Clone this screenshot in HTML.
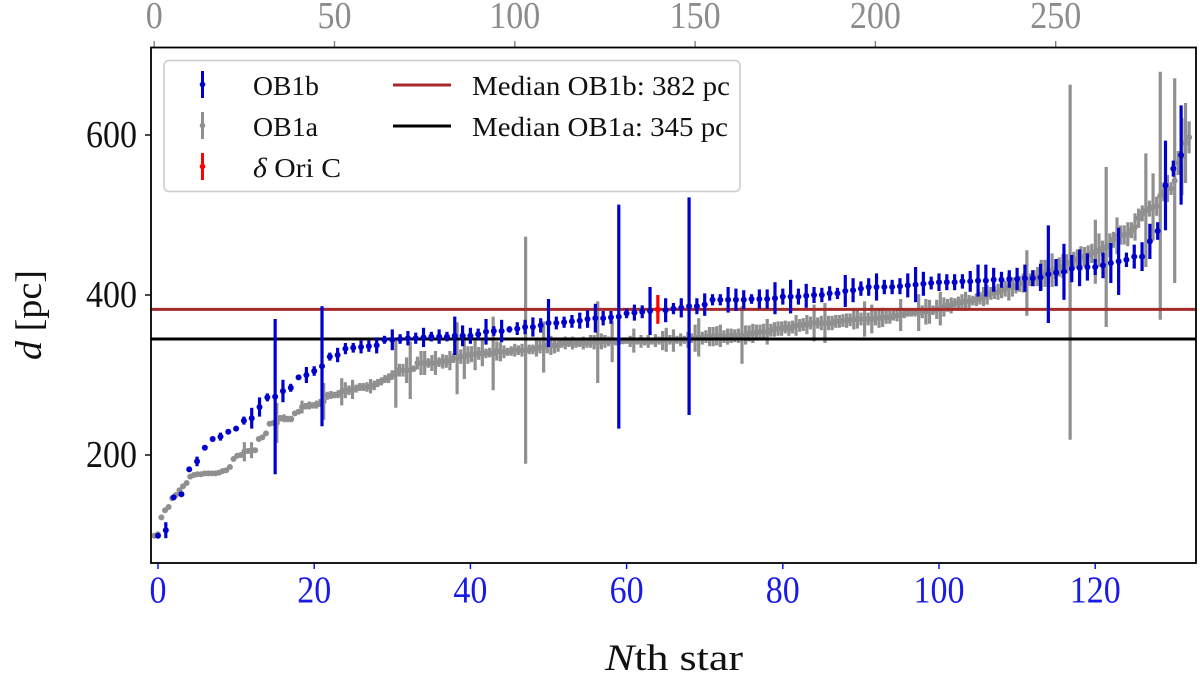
<!DOCTYPE html>
<html lang="en">
<head>
<meta charset="utf-8">
<title>Distance of Nth star in OB1a and OB1b</title>
<style>
html,body{margin:0;padding:0;background:#fff;width:1200px;height:676px;overflow:hidden}
svg{display:block;font-family:"Liberation Serif",serif}
</style>
</head>
<body>
<svg id="chart" width="1200" height="676" viewBox="0 0 1200 676" xmlns="http://www.w3.org/2000/svg">
  <rect x="151" y="47.5" width="1045" height="515.5" fill="#fff"/>
  <g id="gray-layer"></g>
  <g id="median-layer"></g>
  <g id="blue-layer"></g>
  <g id="red-layer"></g>
  <g id="tick-layer"></g>
  <rect x="151" y="47.5" width="1045" height="515.5" fill="none" stroke="#000" stroke-width="1.8"/>

  <g>
    <rect x="164" y="60.5" width="576" height="131" rx="5" fill="#fff" fill-opacity="0.85" stroke="#ccc" stroke-width="1.5"/>
    <g>
      <line x1="202.5" x2="202.5" y1="71" y2="98" stroke="#0000cd" stroke-width="3"/>
      <circle cx="202.5" cy="84.5" r="2.8" fill="#0000cd"/>
      <text x="253" y="95" font-size="27" textLength="66" lengthAdjust="spacingAndGlyphs" fill="#111">OB1b</text>
    </g>
    <g>
      <line x1="202.5" x2="202.5" y1="112" y2="139" stroke="#909090" stroke-width="3"/>
      <circle cx="202.5" cy="125.5" r="2.8" fill="#909090"/>
      <text x="253" y="136" font-size="27" textLength="65" lengthAdjust="spacingAndGlyphs" fill="#111">OB1a</text>
    </g>
    <g>
      <line x1="202.5" x2="202.5" y1="153" y2="180" stroke="#ff0000" stroke-width="3"/>
      <circle cx="202.5" cy="166.5" r="2.8" fill="#ff0000"/>
      <text x="253" y="177" font-size="27" textLength="88" lengthAdjust="spacingAndGlyphs" fill="#111"><tspan font-style="italic">δ</tspan> Ori C</text>
    </g>
    <g>
      <line x1="393" x2="451" y1="85" y2="85" stroke="#a52a2a" stroke-width="3"/>
      <text x="472" y="95" font-size="27" textLength="258" lengthAdjust="spacingAndGlyphs" fill="#111">Median OB1b: 382 pc</text>
    </g>
    <g>
      <line x1="393" x2="451" y1="126" y2="126" stroke="#000" stroke-width="3"/>
      <text x="472" y="136" font-size="27" textLength="256" lengthAdjust="spacingAndGlyphs" fill="#111">Median OB1a: 345 pc</text>
    </g>
  </g>

  <text transform="translate(41,315) rotate(-90)" text-anchor="middle" font-size="37" textLength="90" lengthAdjust="spacingAndGlyphs" fill="#111"><tspan font-style="italic">d</tspan> [pc]</text>
  <text x="674" y="670" text-anchor="middle" font-size="37" textLength="138" lengthAdjust="spacingAndGlyphs" fill="#111"><tspan font-style="italic">N</tspan>th star</text>
</svg>

<script>
const bottomTickLabels = [0, 20, 40, 60, 80, 100, 120];
const topTickLabels = [0, 50, 100, 150, 200, 250];
const leftTickLabels = [200, 400, 600];

const medianOB1b = 382;
const medianOB1a = 345;

const blueDistance = [
  99,106,147,151,182,192,209,220,223,229,
  233,243,246,260,272,273,280,284,297,300,
  305,311,323,325,333,334,335,336,337,344,
  344,345,346,346,347,348,348,348,349,349,
  349,351,354,355,355,357,358,360,360,362,
  365,365,366,367,368,370,371,371,372,373,
  377,378,379,380,null,381,383,384,386,386,
  388,394,394,394,394,394,395,395,395,396,
  398,398,398,399,400,400,402,402,405,406,
  408,410,410,410,410,411,412,413,414,415,
  416,416,416,417,417,418,418,419,419,420,
  420,421,421,422,426,428,429,433,434,435,
  435,437,440,442,444,448,448,467,480,537,
  558,575
];
const blueError = [
  1,10,1,1,1,6,1,1,5,1,
  1,5,13,12,5,97,14,5,1,10,
  6,75,5,9,7,6,8,7,10,5,
  13,6,9,7,12,6,9,6,24,13,
  10,7,16,6,14,4,8,9,12,9,
  30,8,7,8,10,11,18,9,8,140,
  6,10,8,30,0,15,7,12,136,10,
  14,7,7,16,14,12,6,12,12,20,
  10,21,10,15,10,9,9,7,20,15,
  9,11,17,9,9,10,15,22,15,8,
  11,10,10,9,13,20,20,15,10,11,
  14,17,10,17,61,17,35,17,23,17,
  10,16,25,42,9,15,18,22,11,56,
  10,62
];

const redIndex = [64];
const redDistance = [382];
const redError = [18];

const grayDistance = [
  99,101,122,131,135,146,150,156,161,165,
  173,175,176,176,177,177,177,177,178,180,
  181,185,195,199,200,204,205,206,206,220,
  222,227,239,240,240,246,246,245,245,252,
  254,260,261,262,262,263,265,267,274,275,
  275,276,279,281,281,282,283,285,285,285,
  286,287,290,292,295,296,300,302,306,306,
  306,306,308,315,315,315,315,315,315,316,
  317,317,318,321,321,323,323,325,326,326,
  327,327,327,328,327,330,329,329,329,330,
  331,331,331,331,332,332,333,335,335,337,
  337,337,337,340,340,340,340,340,340,340,
  340,342,341,341,342,342,342,342,342,342,
  342,343,342,343,342,342,342,342,342,343,
  343,343,344,344,343,344,344,344,344,346,
  346,347,346,348,348,348,349,349,348,348,
  349,349,349,350,350,352,352,353,354,354,
  354,356,357,358,358,360,358,360,362,362,
  363,363,365,365,365,365,365,365,365,367,
  367,368,368,369,369,370,370,370,370,370,
  371,371,372,372,372,374,374,375,376,377,
  378,378,378,379,379,379,381,382,383,385,
  387,387,390,390,391,392,392,393,394,396,
  398,400,402,403,404,406,408,410,410,412,
  414,415,415,419,421,423,425,427,430,431,
  432,435,436,439,441,444,445,446,448,450,
  452,454,456,458,460,462,469,474,475,475,
  476,481,485,496,502,506,508,510,511,524,
  529,533,533,543,565,573,590,597
];
const grayError = [
  1,1,1,1,1,1,1,1,1,1,
  1,1,1,1,1,1,1,1,1,1,
  1,1,2,2,2,12,3,10,3,2,
  2,2,3,3,25,4,5,4,4,3,
  3,8,4,5,4,5,5,23,5,5,
  4,5,17,10,6,12,5,5,5,6,
  9,6,5,5,5,6,6,43,8,8,
  16,36,4,8,15,15,6,10,15,6,
  9,8,12,6,45,9,28,11,10,20,
  8,16,6,6,46,12,12,8,5,6,
  8,6,8,142,6,6,10,8,32,10,
  12,10,8,6,8,5,8,6,5,8,
  6,8,9,51,10,8,6,26,5,4,
  3,4,7,15,4,8,5,8,4,8,
  5,12,15,6,14,5,8,5,10,6,
  17,24,8,8,12,12,12,14,8,10,
  9,8,9,36,12,10,12,10,9,10,
  16,8,9,9,9,8,9,8,13,8,
  8,12,8,23,7,9,25,9,9,8,
  8,8,9,8,12,12,8,22,8,18,
  9,12,12,8,8,6,7,20,5,4,
  5,5,23,8,16,15,6,12,21,12,
  8,10,6,8,10,12,8,6,8,8,
  12,12,8,8,10,10,10,17,12,10,
  10,12,41,8,10,12,19,17,15,21,
  12,12,15,12,222,10,12,15,12,12,
  12,40,21,10,100,15,10,23,12,12,
  15,10,17,12,10,71,10,42,12,155,
  12,17,8,128,15,48,50,20
];

function xBottom(n) { return 158 + 7.81 * n; }
function xTop(m) { return 154.2 + 3.606 * m; }
function yAxis(d) { return 615 - 0.8 * d; }

const NS = 'http://www.w3.org/2000/svg';
const svg = document.getElementById('chart');
const grayLayer = document.getElementById('gray-layer');
const medianLayer = document.getElementById('median-layer');
const blueLayer = document.getElementById('blue-layer');
const redLayer = document.getElementById('red-layer');
const tickLayer = document.getElementById('tick-layer');

function makeBar(x, d, e, color) {
  const g = document.createElementNS(NS, 'g');
  const l = document.createElementNS(NS, 'line');
  l.setAttribute('x1', x);
  l.setAttribute('x2', x);
  l.setAttribute('y1', yAxis(d + e));
  l.setAttribute('y2', yAxis(d - e));
  l.setAttribute('stroke', color);
  l.setAttribute('stroke-width', 3.2);
  g.appendChild(l);
  const c = document.createElementNS(NS, 'circle');
  c.setAttribute('cx', x);
  c.setAttribute('cy', yAxis(d));
  c.setAttribute('r', 3);
  c.setAttribute('fill', color);
  g.appendChild(c);
  return g;
}

grayDistance.forEach(function (d, i) {
  const bar = makeBar(xTop(i), d, grayError[i], '#909090');
  
  
  grayLayer.appendChild(bar);
});

[[medianOB1a, '#000000'], [medianOB1b, '#a52a2a']].forEach(function (m) {
  const l = document.createElementNS(NS, 'line');
  
  
  l.setAttribute('x1', 151);
  l.setAttribute('x2', 1196);
  l.setAttribute('y1', yAxis(m[0]));
  l.setAttribute('y2', yAxis(m[0]));
  l.setAttribute('stroke', m[1]);
  l.setAttribute('stroke-width', 3);
  medianLayer.appendChild(l);
});

blueDistance.forEach(function (d, i) {
  if (d === null) return;
  const bar = makeBar(xBottom(i), d, blueError[i], '#0000cd');
  
  
  blueLayer.appendChild(bar);
});

redDistance.forEach(function (d, i) {
  const bar = makeBar(xBottom(redIndex[i]), d, redError[i], '#ff0000');
  
  
  redLayer.appendChild(bar);
});

function makeTick(x1, y1, x2, y2, color) {
  const t = document.createElementNS(NS, 'line');
  t.setAttribute('x1', x1);
  t.setAttribute('y1', y1);
  t.setAttribute('x2', x2);
  t.setAttribute('y2', y2);
  t.setAttribute('stroke', color);
  t.setAttribute('stroke-width', 1.4);
  return t;
}

function makeLabel(x, y, str, color, anchor) {
  const t = document.createElementNS(NS, 'text');
  t.setAttribute('x', x);
  t.setAttribute('y', y);
  t.setAttribute('fill', color);
  t.setAttribute('text-anchor', anchor);
  t.setAttribute('font-size', 38);
  t.setAttribute('textLength', str.length * 17);
  t.setAttribute('lengthAdjust', 'spacingAndGlyphs');
  t.textContent = str;
  return t;
}

bottomTickLabels.forEach(function (v) {
  const x = xBottom(v);
  const tick = makeTick(x, 563, x, 569, '#0000ff');
  
  
  tickLayer.appendChild(tick);
  const label = makeLabel(x, 602.5, String(v), '#1a1ae6', 'middle');
  
  
  tickLayer.appendChild(label);
});

topTickLabels.forEach(function (v) {
  const x = xTop(v);
  const tick = makeTick(x, 47, x, 41, '#808080');
  
  
  tickLayer.appendChild(tick);
  const label = makeLabel(x, 28, String(v), '#8c8c8c', 'middle');
  
  
  tickLayer.appendChild(label);
});

leftTickLabels.forEach(function (v) {
  const y = yAxis(v);
  const tick = makeTick(151, y, 145, y, '#000000');
  
  
  tickLayer.appendChild(tick);
  const label = makeLabel(137, y + 12, String(v), '#111111', 'end');
  
  
  tickLayer.appendChild(label);
});
</script>
</body>
</html>
